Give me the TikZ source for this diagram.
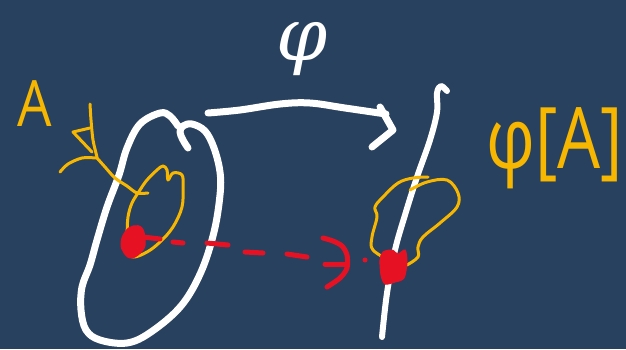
\documentclass[tikz,border=0pt]{standalone}
\usepackage{fontspec}
\setsansfont{Open Sans}
\newfontfamily\mapfont{DejaVu Serif}
\definecolor{board}{RGB}{40,65,94}
\definecolor{pen}{RGB}{247,182,0}
\definecolor{ink}{RGB}{230,18,36}
\tikzset{
  chalk/.style={draw=white, line width=7pt, line cap=round, line join=round},
  yline/.style={draw=pen, line width=3pt, line cap=round, line join=round},
  rline/.style={draw=ink, line width=5pt, line cap=round, line join=round},
  rblob/.style={fill=ink, draw=ink, line width=1pt},
  ylabel/.style={text=pen, font=\sffamily, inner sep=0pt},
}
\begin{document}
\begin{tikzpicture}[x=1pt, y=-1pt]
  \useasboundingbox (0,0) rectangle (626,349);
  \fill[board] (0,0) rectangle (626,349);

  % domain: closed loop with a small curl at the top
  \draw[chalk] plot[smooth, tension=0.6] coordinates {
    (188,148) (183,140) (180,132) (183,126) (192,124) (205,131) (214,148)
    (220,172) (220,195) (214,232) (201,272) (181,306) (151,332) (127,343)
    (100,340) (86,330) (81,310) (82,287) (90,265) (97,240) (107,207)
    (119,175) (127,148) (140,124) (160,113) (170,116) (178,126)};

  % codomain: a line with a hooked top
  \draw[chalk, line width=6pt] plot[smooth, tension=0.6] coordinates {
    (447,91) (441,86) (437,93) (437,112) (430,140) (417,177) (405,215)
    (395,250) (387,293) (382,337)};

  % the map arrow
  \draw[chalk] plot[smooth, tension=0.6] coordinates {
    (208,113) (240,110) (280,104) (310,103) (345,108) (386,114)};
  \draw[chalk] (380,107) -- (393,130) -- (372,147);

  % label of the map
  \node[text=white, inner sep=0pt] (mapname) at (302,49)
    {\mapfont\itshape\fontsize{73}{73}\selectfont φ};

  % subset A inside the domain
  \draw[yline] plot[smooth cycle, tension=0.6] coordinates {
    (140,190) (147,180) (157,170) (163,166) (167,170) (168,180) (173,173)
    (182,175) (183,187) (182,207) (173,227) (160,242) (147,252) (133,257)
    (125,250) (127,233) (128,217) (132,203)};

  % image of A on the codomain
  \draw[yline] plot[smooth, tension=0.6] coordinates {
    (392,262) (373,250) (372,237) (377,217) (375,207) (383,197) (398,183)
    (413,178) (428,177)};
  \draw[yline] plot[smooth, tension=0.6] coordinates {
    (410,190) (427,182) (447,180) (458,193) (457,207) (440,223) (423,237)
    (418,247) (418,257) (407,265)};

  % label A and its pointer
  \node[ylabel, xscale=0.85] (setA) at (35,104)
    {\fontsize{64}{64}\selectfont A};
  \draw[yline] plot[smooth] coordinates {(90,104) (91,120) (93,140) (97,157)};
  \draw[yline] (90,128) -- (73,132) -- (92,152);
  \draw[yline] plot[smooth] coordinates {(60,172) (68,164) (82,158) (97,158)};
  \draw[yline] plot[smooth] coordinates {
    (97,158) (105,167) (115,178) (127,186) (137,193) (148,193)};

  % label of the image
  \node[ylabel, yscale=1.25] (imageA) at (555,148)
    {\fontsize{68}{68}\selectfont φ[A]};

  % a point and its image
  \filldraw[rblob] plot[smooth cycle, tension=0.7] coordinates {
    (125,232) (133,226) (142,228) (145,240) (143,250) (132,258) (124,253) (121,243)};
  \filldraw[rblob] plot[smooth cycle, tension=0.5] coordinates {
    (383,252) (392,250) (398,254) (405,250) (407,262) (404,278) (395,282)
    (385,284) (381,275) (380,260)};
  \coordinate (ptA) at (133,241);
  \coordinate (ptB) at (393,266);

  % dashed red arrow from the point to its image
  \draw[rline] (143,237) -- (160,239);
  \draw[rline] (173,242) -- (183,243);
  \draw[rline] (207,243) -- (228,245);
  \draw[rline] (245,252) -- (263,253);
  \draw[rline] (287,254) -- (307,257);
  \draw[rline] plot[smooth, tension=0.5] coordinates {
    (323,238) (333,241) (342,246) (347,255) (347,268) (340,278) (327,287)};
  \draw[rline] (325,264) -- (346,264);
  \fill[ink] (365,260) circle (2.5);
\end{tikzpicture}
\end{document}
